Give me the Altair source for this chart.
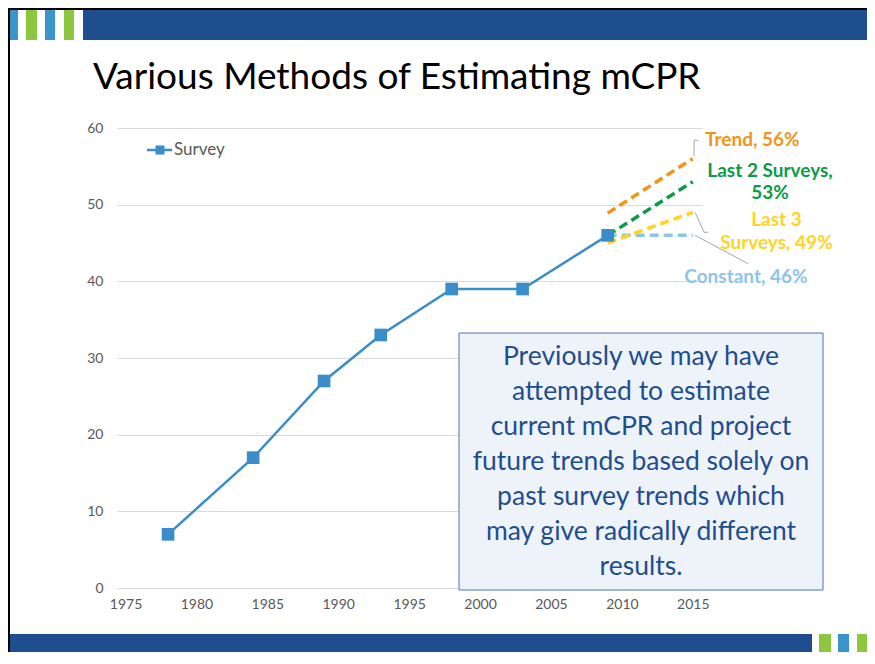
import altair as alt
import pandas as pd

# ---------------- data ----------------
survey_years = [1978, 1984, 1989, 1993, 1998, 2003, 2009]
survey_values = [7, 17, 27, 33, 39, 39, 46]

proj_names = ["Constant", "Last 3 Surveys", "Last 2 Surveys", "Trend"]
proj_start_year = 2009
proj_end_year = 2015
proj_start = [46, 45, 46, 48.9]
proj_end = [46, 49, 53, 56]
proj_colors = ["#8EC4E6", "#FFD422", "#0E9A48", "#F39419"]

label_text = ["Trend, 56%", "Last 2 Surveys,", "53%", "Last 3", "Surveys, 49%", "Constant, 46%"]
label_series = ["Trend", "Last 2 Surveys", "Last 2 Surveys", "Last 3 Surveys", "Last 3 Surveys", "Constant"]
label_year = [2019.2, 2020.45, 2020.45, 2020.9, 2020.9, 2018.75]
label_value = [58.4, 54.4, 51.5, 48.0, 45.0, 40.6]

leader_id = ["t", "t", "t", "l3", "l3", "l3", "c", "c"]
leader_year = [2015.09, 2015.09, 2015.37, 2015.16, 2015.8, 2016.08, 2015.16, 2018.9]
leader_value = [56.3, 58.4, 58.4, 49.0, 46.4, 46.4, 46.0, 42.3]

x_ticks = [1975, 1980, 1985, 1990, 1995, 2000, 2005, 2010, 2015]
y_ticks = [0, 10, 20, 30, 40, 50, 60]

title_text = "Various Methods of Estimating mCPR"
legend_text = "Survey"
box_lines = [
    "Previously we may have",
    "attempted to estimate",
    "current mCPR and project",
    "future trends based solely on",
    "past survey trends which",
    "may give radically different",
    "results.",
]

# ---------------- tables ----------------
survey_df = pd.DataFrame({"year": survey_years, "value": survey_values})
proj_rows = []
for n, s, e in zip(proj_names, proj_start, proj_end):
    proj_rows.append({"series": n, "year": proj_start_year, "value": s})
    proj_rows.append({"series": n, "year": proj_end_year, "value": e})
proj_df = pd.DataFrame(proj_rows)
label_df = pd.DataFrame({"text": label_text, "series": label_series,
                         "year": label_year, "value": label_value})
leader_df = pd.DataFrame({"id": leader_id, "year": leader_year, "value": leader_value})
dummy = pd.DataFrame({"k": [0]})

FONT = "Lato"
GRAY = "#595959"

xs = alt.Scale(domain=[1974.4, 2015.65], nice=False, zero=False)
ys = alt.Scale(domain=[0, 60], nice=False, zero=False)
xa = alt.Axis(values=x_ticks, format="d", grid=False, domain=False, ticks=False,
              labelPadding=9, labelFontSize=14, labelColor=GRAY, labelFont=FONT, title=None)
ya = alt.Axis(values=y_ticks, grid=True, gridColor="#D9D9D9", gridWidth=1, domain=False,
              ticks=False, labelPadding=14, labelFontSize=14, labelColor=GRAY,
              labelFont=FONT, title=None)
X = alt.X("year:Q", scale=xs, axis=xa)
Y = alt.Y("value:Q", scale=ys, axis=ya)
color_scale = alt.Scale(domain=proj_names, range=proj_colors)


def rect(x1, x2, y1, y2, color, **kw):
    return alt.Chart(dummy).mark_rect(color=color, **kw).encode(
        x=alt.value(x1), x2=alt.value(x2), y=alt.value(y1), y2=alt.value(y2))


BOTTOM = 524  # bottom edge of the chart, in view coordinates
RIGHT = 750   # right edge of the chart, in view coordinates

# decorations (slide frame)
deco = [
    rect(-34, RIGHT, -118, -88, "#1F4E8F"),
    rect(-107, -99, -118, -88, "#3A95CB"),
    rect(-91, -80, -118, -88, "#8DC63F"),
    rect(-72, -62, -118, -88, "#3A95CB"),
    rect(-53, -43, -118, -88, "#8DC63F"),
    rect(-109, 695, 506, BOTTOM, "#1F4E8F"),
    rect(702, 714, 506, BOTTOM, "#8DC63F"),
    rect(721, 732, 506, BOTTOM, "#3A95CB"),
    rect(740, RIGHT, 506, BOTTOM, "#8DC63F"),
    rect(-109, -107, -120, BOTTOM, "#000000"),
    rect(-109, RIGHT, -120, -118, "#000000"),
]

title = alt.Chart(dummy).mark_text(
    font=FONT, fontSize=37, color="#000000", align="left", baseline="alphabetic"
).encode(x=alt.value(-24), y=alt.value(-39), text=alt.value(title_text))

survey_line = alt.Chart(survey_df).mark_line(color="#3A8DC8", strokeWidth=2.5).encode(x=X, y=Y)
survey_pts = alt.Chart(survey_df).mark_point(
    shape="square", filled=True, size=160, color="#3A8DC8", opacity=1
).encode(x=X, y=Y)

proj = alt.Chart(proj_df).mark_line(strokeWidth=3.5, strokeDash=[9, 5]).encode(
    x=X, y=Y,
    color=alt.Color("series:N", scale=color_scale, legend=None),
    order=alt.Order("year:Q"),
)

leaders = alt.Chart(leader_df).mark_line(color="#A6A6A6", strokeWidth=1).encode(
    x=X, y=Y, detail="id:N")

labels = alt.Chart(label_df).mark_text(
    font=FONT, fontSize=19, fontWeight="bold", align="center", baseline="middle"
).encode(
    x=X, y=Y, text="text:N",
    color=alt.Color("series:N", scale=color_scale, legend=None),
)

legend_line = alt.Chart(dummy).mark_rule(color="#3A8DC8", strokeWidth=2.5).encode(
    x=alt.value(30), x2=alt.value(55), y=alt.value(22))
legend_pt = alt.Chart(dummy).mark_point(
    shape="square", filled=True, size=81, color="#3A8DC8", opacity=1
).encode(x=alt.value(43), y=alt.value(22))
legend_lbl = alt.Chart(dummy).mark_text(
    font=FONT, fontSize=17, color=GRAY, align="left", baseline="middle"
).encode(x=alt.value(57), y=alt.value(22), text=alt.value(legend_text))

box = rect(342, 706, 205, 462, "#EEF3FA", stroke="#4E72B2", strokeWidth=1)
box_text = alt.Chart(dummy).mark_text(
    font=FONT, fontSize=26.5, color="#1F4E8F", align="center", baseline="middle",
    lineHeight=35
).encode(x=alt.value(524), y=alt.value(229), text=alt.value(box_lines))

chart = alt.layer(
    *deco, title, survey_line, proj, survey_pts, leaders, labels,
    legend_line, legend_pt, legend_lbl, box, box_text
).properties(
    width=585, height=460,
    autosize=alt.AutoSizeParams(type="none"),
    padding={"left": 109, "top": 120, "right": RIGHT - 585, "bottom": BOTTOM - 460},
    background="#FFFFFF",
).configure_view(stroke=None)

chart.save("out.html", embed_options={"renderer": "svg", "actions": False})
